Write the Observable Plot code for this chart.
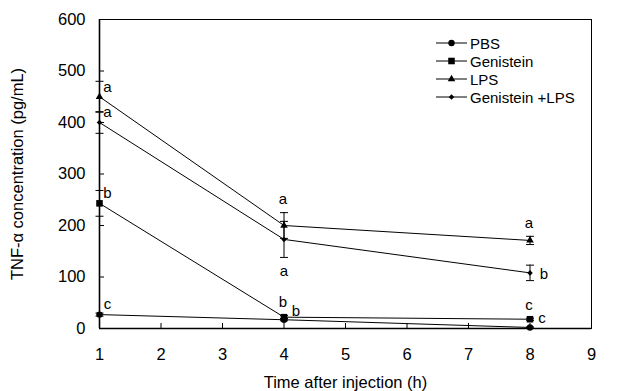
<!DOCTYPE html>
<html><head><meta charset="utf-8">
<script src="https://cdn.jsdelivr.net/npm/d3@7"></script>
<script src="https://cdn.jsdelivr.net/npm/@observablehq/plot@0.6"></script>
<style>
body{margin:0;background:#fff;}
#wrap{position:relative;width:620px;height:391px;}
#legend{position:absolute;left:436px;top:34px;font:15px "Liberation Sans", Arial, sans-serif;color:#000;}
#legend .row{display:flex;align-items:center;height:18px;}
#legend svg{margin-right:3px;overflow:visible;}
</style></head><body><div id="wrap"></div>
<script>
// ---- data ----
const times = [1, 4, 8];
const seriesNames = ["PBS", "Genistein", "LPS", "Genistein +LPS"];
const seriesSymbols = ["circle", "square", "triangle", "diamond2"];

const pbsValues = [27, 17, 2];
const pbsErrors = [3, 2, 1];
const pbsLetters = ["c", "b", "c"];

const genisteinValues = [243, 22, 18];
const genisteinErrors = [25, 3, 2];
const genisteinLetters = ["b", "b", "c"];

const lpsValues = [450, 200, 171];
const lpsErrors = [30, 25, 8];
const lpsLetters = ["a", "a", "a"];

const comboValues = [400, 173, 108];
const comboErrors = [21, 35, 15];
const comboLetters = ["a", "a", "b"];

const xTicks = [1, 2, 3, 4, 5, 6, 7, 8, 9];
const yTicks = [0, 100, 200, 300, 400, 500, 600];

// letter placement relative to point (style codes)
const pbsSpots = ["ne", "ene", "ene"];
const genisteinSpots = ["ne", "n", "n"];
const lpsSpots = ["ne", "n", "n"];
const comboSpots = ["ne", "s", "e"];

// ---- build table ----
const allValues = [pbsValues, genisteinValues, lpsValues, comboValues];
const allErrors = [pbsErrors, genisteinErrors, lpsErrors, comboErrors];
const allLetters = [pbsLetters, genisteinLetters, lpsLetters, comboLetters];
const allSpots = [pbsSpots, genisteinSpots, lpsSpots, comboSpots];

const rows = [];
seriesNames.forEach((s, si) => {
  times.forEach((t, ti) => {
    rows.push({series: s, symbol: seriesSymbols[si], time: t, value: allValues[si][ti],
      err: allErrors[si][ti], letter: allLetters[si][ti], spot: allSpots[si][ti]});
  });
});

const symR = {circle: 3.2, square: 3.7, triangle: 2.8, diamond2: 2.5};
const capSymbol = {draw(ctx) { ctx.moveTo(-4, 0); ctx.lineTo(4, 0); }};

const spotCfg = {
  ne: {dx: 8, dy: -10, y: d => d.value},
  ene: {dx: 12, dy: -9, y: d => d.value},
  e: {dx: 14, dy: 1, y: d => d.value},
  n: {dx: -1, dy: -13, y: d => d.value + d.err},
  s: {dx: 0, dy: 14, y: d => d.value - d.err}
};

const font = '"Liberation Sans", Arial, sans-serif';

const marks = [];
// lines
seriesNames.forEach((s, si) => {
  marks.push(Plot.line(rows.filter(d => d.series === s), {x: "time", y: "value", stroke: "black", strokeWidth: 1}));
});
// error bars
marks.push(Plot.ruleX(rows, {x: "time", y1: d => d.value - d.err, y2: d => d.value + d.err, stroke: "black", strokeWidth: 1}));
marks.push(Plot.dot(rows, {x: "time", y: d => d.value + d.err, symbol: capSymbol, stroke: "black", fill: "none", strokeWidth: 1}));
marks.push(Plot.dot(rows, {x: "time", y: d => d.value - d.err, symbol: capSymbol, stroke: "black", fill: "none", strokeWidth: 1}));
// markers
seriesNames.forEach((s, si) => {
  const sym = seriesSymbols[si];
  marks.push(Plot.dot(rows.filter(d => d.series === s), {x: "time", y: "value", symbol: sym, r: symR[sym], fill: "black", stroke: "none"}));
});
// letters
Object.entries(spotCfg).forEach(([k, c]) => {
  marks.push(Plot.text(rows.filter(d => d.spot === k), {x: "time", y: c.y, text: "letter", dx: c.dx, dy: c.dy, fill: "black", fontSize: 15}));
});
// frame & axes
marks.push(Plot.frame({stroke: "black", strokeWidth: 1}));
marks.push(Plot.ruleX([1], {stroke: "black", strokeWidth: 1.6}));
marks.push(Plot.ruleY([0], {stroke: "black", strokeWidth: 1.6}));
marks.push(Plot.axisY({ticks: yTicks, tickSize: -5, tickPadding: 19, label: "TNF-α concentration (pg/mL)", labelAnchor: "center", labelOffset: 88, labelArrow: "none", fontSize: 16.5}));
marks.push(Plot.axisX({ticks: xTicks, tickSize: -5, tickPadding: 25, label: "Time after injection (h)", labelAnchor: "center", labelOffset: 59, labelArrow: "none", fontSize: 16.5}));

const chart = Plot.plot({
  width: 620, height: 391,
  marginLeft: 99, marginRight: 29, marginTop: 19, marginBottom: 63,
  x: {domain: [1, 9]},
  y: {domain: [0, 600]},
  style: {fontFamily: font, fontSize: "16.5px", background: "white", color: "black"},
  marks
});
const wrap = document.getElementById("wrap");
wrap.appendChild(chart);

// legend
const legend = document.createElement("div");
legend.id = "legend";
const symbolMap = {circle: d3.symbolCircle, square: d3.symbolSquare, triangle: d3.symbolTriangle, diamond2: d3.symbolDiamond2};
seriesNames.forEach((s, si) => {
  const row = document.createElement("div");
  row.className = "row";
  const sym = seriesSymbols[si];
  const r = symR[sym];
  const sv = d3.create("svg").attr("width", 31).attr("height", 12);
  sv.append("line").attr("x1", 0).attr("x2", 31).attr("y1", 6).attr("y2", 6).attr("stroke", "black").attr("stroke-width", 1);
  sv.append("path").attr("transform", "translate(15.5,6)").attr("d", d3.symbol(symbolMap[sym], r * r * Math.PI)()).attr("fill", "black");
  row.appendChild(sv.node());
  const tx = document.createElement("span");
  tx.textContent = s;
  row.appendChild(tx);
  legend.appendChild(row);
});
wrap.appendChild(legend);
</script>
</body></html>
